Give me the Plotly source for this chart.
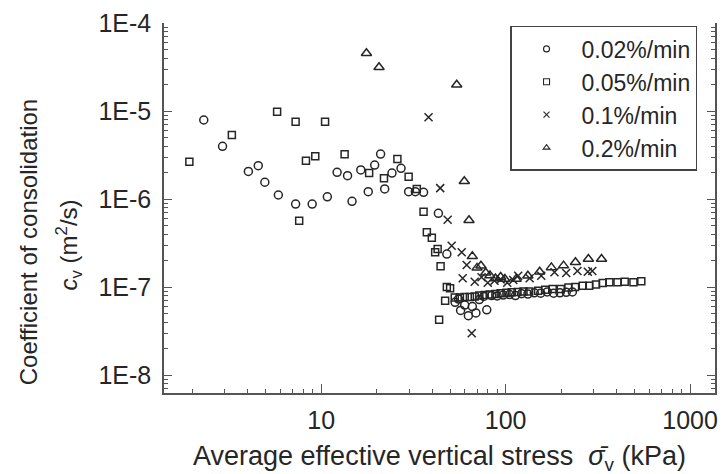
import plotly.graph_objects as go

# Coefficient of consolidation vs. average effective vertical stress, four strain rates
circ_x = [2.31, 2.92, 4.03, 4.56, 4.95, 5.86, 7.27, 8.94, 10.8, 12.2,
          13.9, 14.7, 16.4, 18.0, 19.5, 21.0, 22.1, 24.2, 27.1, 29.8,
          32.4, 35.9, 43.2, 48.0, 53.2, 55.5, 57.0, 60.0, 62.8, 66.0,
          69.0, 72.0, 76.0, 79.0, 84.0, 90.0, 97.0, 105, 113, 122,
          132, 143, 155, 168, 182, 197, 213, 230]
circ_y = [7.9e-6, 3.97e-6, 2.06e-6, 2.39e-6, 1.55e-6, 1.11e-6, 8.77e-7, 8.77e-7, 1.06e-6, 2.01e-6,
          1.84e-6, 9.4e-7, 2.14e-6, 1.21e-6, 2.43e-6, 3.24e-6, 1.30e-6, 1.97e-6, 2.23e-6, 1.21e-6,
          1.21e-6, 1.19e-6, 6.87e-7, 2.37e-7, 6.7e-8, 7.3e-8, 5.42e-8, 6.24e-8, 4.72e-8, 6.0e-8,
          5.07e-8, 7.2e-8, 7.8e-8, 5.5e-8, 8.0e-8, 7.9e-8, 8.1e-8, 8.2e-8, 8.0e-8, 8.4e-8,
          8.3e-8, 8.6e-8, 8.5e-8, 8.8e-8, 8.5e-8, 8.6e-8, 8.7e-8, 8.8e-8]

sq_x = [1.93, 3.28, 5.77, 7.27, 7.6, 8.27, 9.29, 10.5, 13.4,
        18.2, 21.9, 25.9, 29.8, 33.0, 35.9, 37.4, 39.8, 41.5, 42.8,
        43.6, 44.4, 47.0, 48.0, 50.0, 53.0, 56.5, 60, 64, 68,
        72, 77, 82, 88, 94, 101, 108, 116, 125, 134,
        150, 164, 180, 199, 219, 238, 262, 284, 309, 336,
        365, 404, 442, 493, 544]
sq_y = [2.65e-6, 5.33e-6, 9.8e-6, 7.56e-6, 5.66e-7, 2.72e-6, 3.06e-6, 7.56e-6, 3.22e-6,
        1.97e-6, 1.72e-6, 2.85e-6, 1.79e-6, 1.30e-6, 7.18e-7, 4.19e-7, 3.63e-7, 2.48e-7, 2.71e-7,
        4.25e-8, 1.72e-7, 6.98e-8, 1.0e-7, 9.66e-8, 7.6e-8, 7.6e-8, 7.7e-8, 7.7e-8, 7.8e-8,
        8.0e-8, 8.1e-8, 8.2e-8, 8.3e-8, 8.5e-8, 8.6e-8, 8.7e-8, 8.8e-8, 8.9e-8, 8.9e-8,
        9.08e-8, 9.3e-8, 9.5e-8, 9.5e-8, 9.9e-8, 1.0e-7, 1.03e-7, 1.03e-7, 1.07e-7, 1.11e-7,
        1.13e-7, 1.13e-7, 1.15e-7, 1.13e-7, 1.16e-7]

x_x = [38.2, 44.2, 48.5, 51.0, 57.8, 58.5, 61.5, 65.5, 68, 74,
       80, 87, 94, 102, 110, 117, 135, 156, 184, 213,
       245, 279, 295]
x_y = [8.48e-6, 1.33e-6, 5.82e-7, 2.95e-7, 2.48e-7, 1.26e-7, 1.78e-7, 2.98e-8, 1.15e-7, 1.29e-7,
       1.12e-7, 1.18e-7, 1.22e-7, 1.12e-7, 1.2e-7, 1.34e-7, 1.26e-7, 1.34e-7, 1.47e-7, 1.44e-7,
       1.52e-7, 1.49e-7, 1.52e-7]

tri_x = [17.6, 20.6, 54.3, 59.7, 63.3, 66.0, 70.0, 73.5, 78.0, 82.2,
         88.0, 94.0, 99.0, 114, 132, 153, 177, 206, 239, 281, 331]
tri_y = [4.53e-5, 3.14e-5, 1.99e-5, 1.59e-6, 5.73e-7, 2.23e-7, 1.65e-7, 1.74e-7, 1.45e-7, 1.35e-7,
         1.25e-7, 1.3e-7, 1.23e-7, 1.23e-7, 1.34e-7, 1.49e-7, 1.67e-7, 1.75e-7, 1.91e-7, 2.08e-7, 2.08e-7]

series_names = ["0.02%/min", "0.05%/min", "0.1%/min", "0.2%/min"]
x_tick_vals = [10, 100, 1000]
x_tick_text = ["10", "100", "1000"]
y_tick_vals = [1e-8, 1e-7, 1e-6, 1e-5, 1e-4]
y_tick_text = ["1E-8", "1E-7", "1E-6", "1E-5", "1E-4"]

INK = "#262626"
AXIS = "#555555"
FONT = "Liberation Sans, Arial, sans-serif"

styles = [
    dict(symbol="circle-open", size=8),
    dict(symbol="square-open", size=7),
    dict(symbol="x-thin-open", size=8),
    dict(symbol="triangle-up-open", size=9),
]
data = [(circ_x, circ_y), (sq_x, sq_y), (x_x, x_y), (tri_x, tri_y)]

fig = go.Figure()
for (xs, ys), st, name in zip(data, styles, series_names):
    fig.add_trace(go.Scatter(
        x=xs, y=ys, mode="markers", name=name, showlegend=False,
        marker=dict(symbol=st["symbol"], size=st["size"], color=INK,
                    line=dict(color=INK, width=1.5)),
    ))
# small legend keys
for st, name in zip(styles, series_names):
    fig.add_trace(go.Scatter(
        x=[None], y=[None], mode="markers", name=name,
        marker=dict(symbol=st["symbol"], size=6, color=INK,
                    line=dict(color=INK, width=1.1)),
    ))

x_minor = [m * 10 ** e for e in range(0, 4) for m in range(2, 10)]
y_minor = [m * 10.0 ** e for e in range(-9, -4) for m in range(2, 10)]

fig.update_xaxes(
    type="log", range=[0.148, 3.135],
    showline=True, linecolor=AXIS, linewidth=1.5, mirror=False,
    showgrid=False, zeroline=False,
    ticks="inside", ticklen=9, tickwidth=1.2, tickcolor=AXIS,
    tickvals=x_tick_vals, ticktext=x_tick_text,
    tickfont=dict(size=25, color=INK), ticklabelstandoff=4,
    minor=dict(ticks="inside", ticklen=4.5, tickwidth=1.0, tickcolor=AXIS,
               tickvals=x_minor, showgrid=False),
)
fig.update_yaxes(
    type="log", range=[-8.2045, -4.0],
    showline=True, linecolor=AXIS, linewidth=1.5, mirror="ticks",
    showgrid=False, zeroline=False,
    ticks="inside", ticklen=8, tickwidth=1.2, tickcolor=AXIS,
    tickvals=y_tick_vals, ticktext=y_tick_text,
    tickfont=dict(size=25, color=INK), ticklabelstandoff=6,
    minor=dict(ticks="inside", ticklen=4, tickwidth=1.0, tickcolor=AXIS,
               tickvals=y_minor, showgrid=False),
)

fig.update_layout(
    width=723, height=474,
    margin=dict(l=164, r=5, t=23, b=81),
    plot_bgcolor="white", paper_bgcolor="white",
    font=dict(family=FONT, size=24, color=INK),
    legend=dict(
        x=0.628, y=0.992, xanchor="left", yanchor="top",
        bgcolor="white", bordercolor="#444", borderwidth=1.5,
        font=dict(size=23, color=INK), itemwidth=60,
    ),
    annotations=[
        dict(text="Average effective vertical stress  <i>\u03c3\u0304</i><sub>v</sub> (kPa)",
             xref="paper", yref="paper", x=0.5, y=-0.1757,
             xanchor="center", yanchor="middle", showarrow=False,
             font=dict(size=27, color=INK)),
        dict(text="Coefficient of consolidation",
             xref="paper", yref="paper", x=-0.2455, y=0.4068,
             xanchor="center", yanchor="middle", textangle=-90, showarrow=False,
             font=dict(size=24, color=INK)),
        dict(text="<i>c</i><sub>v</sub> (m<sup>2</sup>/s)",
             xref="paper", yref="paper", x=-0.1733, y=0.40,
             xanchor="center", yanchor="middle", textangle=-90, showarrow=False,
             font=dict(size=24, color=INK)),
    ],
)

fig.write_html("out.html")
